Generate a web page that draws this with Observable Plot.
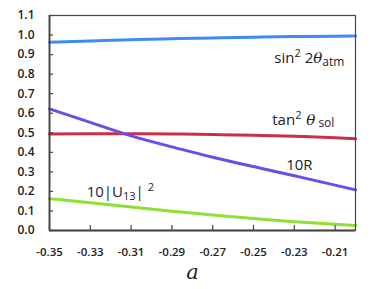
<!DOCTYPE html>
<html>
<head>
<meta charset="utf-8">
<script src="https://cdn.jsdelivr.net/npm/d3@7"></script>
<script src="https://cdn.jsdelivr.net/npm/@observablehq/plot@0.6"></script>
<style>
  html, body { margin: 0; padding: 0; background: #fff; }
</style>
</head>
<body>
<div id="chart"></div>
<script>
// Data
const alpha = [-0.35, -0.33, -0.31, -0.29, -0.27, -0.25, -0.23, -0.21, -0.20];
const sin22ThetaAtm = [0.963, 0.970, 0.976, 0.981, 0.985, 0.989, 0.992, 0.994, 0.995];
const tan2ThetaSol = [0.494, 0.495, 0.495, 0.494, 0.491, 0.487, 0.482, 0.474, 0.469];
const tenR = [0.622, 0.553, 0.484, 0.428, 0.375, 0.327, 0.280, 0.232, 0.208];
const tenU13sq = [0.163, 0.142, 0.120, 0.099, 0.079, 0.061, 0.045, 0.032, 0.026];

const seriesNames = ["sin22θatm", "tan2θsol", "10R", "10|U13|2"];
const seriesValues = [sin22ThetaAtm, tan2ThetaSol, tenR, tenU13sq];
const seriesColors = ["#3f8cf0", "#c8304c", "#6a4ee8", "#8ee032"];

const xTicks = [-0.35, -0.33, -0.31, -0.29, -0.27, -0.25, -0.23, -0.21];
const yTicks = [0.0, 0.1, 0.2, 0.3, 0.4, 0.5, 0.6, 0.7, 0.8, 0.9, 1.0, 1.1];

// Annotation labels (anchor points in data coordinates)
const labelKeys = ["sin22θatm", "tan2θsol", "10R", "10|U13|2"];
const labelAlpha = [-0.2398, -0.2408, -0.2340, -0.3318];
const labelValue = [0.88, 0.563, 0.333, 0.194];

const rows = [];
seriesNames.forEach((name, i) => {
  alpha.forEach((a, j) => rows.push({series: name, alpha: a, value: seriesValues[i][j]}));
});
const labels = labelKeys.map((k, i) => ({key: k, alpha: labelAlpha[i], value: labelValue[i]}));

const font = "'Open Sans', 'Noto Sans', sans-serif";

const chart = Plot.plot({
  width: 387,
  height: 289,
  marginLeft: 49,
  marginRight: 32,
  marginTop: 15,
  marginBottom: 59,
  style: {fontFamily: font, background: "#fff", overflow: "visible"},
  x: {domain: [-0.35, -0.20]},
  y: {domain: [0, 1.1]},
  color: {domain: seriesNames, range: seriesColors},
  marks: [
    Plot.line(rows, {x: "alpha", y: "value", z: "series", stroke: "series", strokeWidth: 3, curve: "natural"}),
    Plot.frame({stroke: "#444", strokeWidth: 1.2}),
    Plot.ruleX([-0.35], {stroke: "#444", strokeWidth: 1.8}),
    Plot.ruleY([0], {stroke: "#444", strokeWidth: 1.8}),
    // inward tick marks
    Plot.axisY({ticks: yTicks, tickSize: -4, tickFormat: () => "", label: null, stroke: "#444", strokeWidth: 1.2}),
    Plot.axisX({ticks: xTicks, tickSize: -5, tickFormat: () => "", label: null, stroke: "#444", strokeWidth: 1.2}),
    // tick labels
    Plot.axisY({ticks: yTicks, tickSize: 0, tickPadding: 15, tickFormat: d => d.toFixed(1), label: null,
      fontSize: 12, fontWeight: 600, fill: "#222"}),
    Plot.axisX({ticks: xTicks, tickSize: 0, tickPadding: 17, tickFormat: d => d.toFixed(2), label: null,
      fontSize: 11.5, fontWeight: 600, fill: "#222"}),
    // axis label
    Plot.text(["a"], {frameAnchor: "bottom", dx: -10, dy: 48, text: d => d, fontSize: 21, fontStyle: "italic",
      fontFamily: "'DejaVu Serif', 'Liberation Serif', serif", fill: "#222"}),
    // series labels
    Plot.text(labels, {x: "alpha", y: "value", text: "key", textAnchor: "start", fontSize: 15, fill: "#222"})
  ]
});

// Rich formatting for the series labels (superscripts, subscripts, Greek italic)
const rich = {
  "sin22θatm": 'sin<tspan dy="-6" font-size="11">2</tspan><tspan dy="6"> 2</tspan><tspan font-style="italic" font-family="DejaVu Serif, serif">θ</tspan><tspan dy="3" font-size="12">atm</tspan>',
  "tan2θsol": 'tan<tspan dy="-6" font-size="11">2</tspan><tspan dy="6" font-style="italic" font-family="DejaVu Serif, serif"> θ</tspan><tspan dy="2" font-size="12"> sol</tspan>',
  "10R": '10R',
  "10|U13|2": '10|U<tspan dy="3" font-size="11">13</tspan><tspan dy="-3">| </tspan><tspan dy="-6" font-size="11">2</tspan>'
};
d3.select(chart).selectAll("text").each(function() {
  const t = this.textContent;
  if (rich[t] !== undefined && this.childElementCount === 0) this.innerHTML = rich[t];
});

document.getElementById("chart").appendChild(chart);
</script>
</body>
</html>
